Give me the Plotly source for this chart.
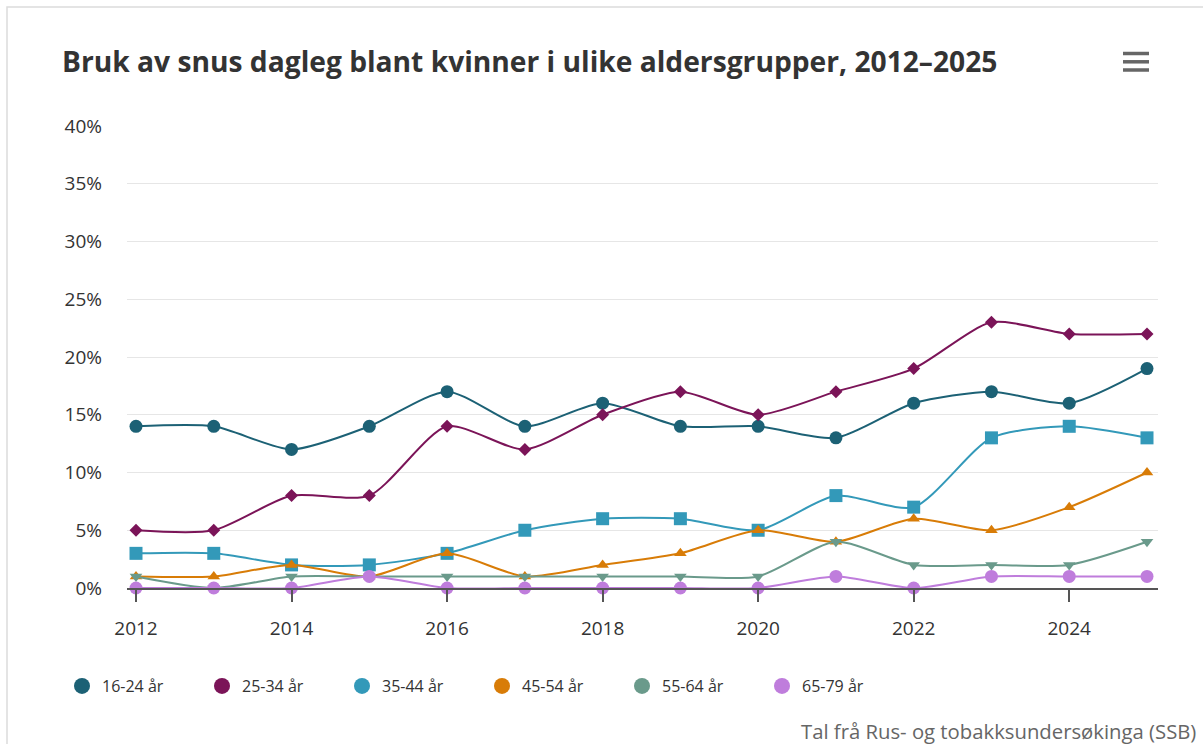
import plotly.graph_objects as go

years = list(range(2012, 2026))
series_names = ["16-24 år", "25-34 år", "35-44 år", "45-54 år", "55-64 år", "65-79 år"]
v_16_24 = [14, 14, 12, 14, 17, 14, 16, 14, 14, 13, 16, 17, 16, 19]
v_25_34 = [5, 5, 8, 8, 14, 12, 15, 17, 15, 17, 19, 23, 22, 22]
v_35_44 = [3, 3, 2, 2, 3, 5, 6, 6, 5, 8, 7, 13, 14, 13]
v_45_54 = [1, 1, 2, 1, 3, 1, 2, 3, 5, 4, 6, 5, 7, 10]
v_55_64 = [1, 0, 1, 1, 1, 1, 1, 1, 1, 4, 2, 2, 2, 4]
v_65_79 = [0, 0, 0, 1, 0, 0, 0, 0, 0, 1, 0, 1, 1, 1]
values = [v_16_24, v_25_34, v_35_44, v_45_54, v_55_64, v_65_79]
colors = ["#1c6175", "#7b1458", "#3399b9", "#d87c07", "#6a9a8b", "#bf7ddc"]
symbols = ["circle", "diamond", "square", "triangle-up", "triangle-down", "circle"]
msizes = [13, 10, 13, 11, 11, 13]
x_ticks = [2012, 2014, 2016, 2018, 2020, 2022, 2024]
y_ticks = [0, 5, 10, 15, 20, 25, 30, 35, 40]
y_labels = [f"{t}%" for t in y_ticks]

FONT = "Open Sans"

fig = go.Figure()
for name, vals, col, sym, ms in zip(series_names, values, colors, symbols, msizes):
    fig.add_trace(go.Scatter(
        x=years, y=vals, name=name, mode="lines+markers",
        line=dict(color=col, width=2, shape="spline", smoothing=0.7),
        marker=dict(color=col, size=ms, symbol=sym),
        showlegend=False, cliponaxis=False,
        hovertemplate="%{x}: %{y}%<extra>" + name + "</extra>",
    ))
# legend-only entries (circle symbols)
for name, col in zip(series_names, colors):
    fig.add_trace(go.Scatter(
        x=[None], y=[None], name=name, mode="markers",
        marker=dict(color=col, size=17, symbol="circle"),
        showlegend=True,
    ))

L, R_PX, T, B = 127, 1158, 126, 588
W, H = 1203, 744
pw = R_PX - L
ph = B - T
def px(x):
    return (x - L) / pw
def py(y):
    return (B - y) / ph

shapes = [
    dict(type="rect", xref="paper", yref="paper",
         x0=px(7), x1=px(1215), y0=py(7), y1=py(760),
         line=dict(color="#dcdcdc", width=1.5), fillcolor="rgba(0,0,0,0)", layer="below"),
]
for yy in (53.5, 61.8, 70):
    shapes.append(dict(type="line", xref="paper", yref="paper",
                       x0=px(1123), x1=px(1149), y0=py(yy), y1=py(yy),
                       line=dict(color="#666666", width=3.5)))

fig.update_layout(
    width=W, height=H,
    margin=dict(l=L, r=W - R_PX, t=T, b=H - B),
    paper_bgcolor="white", plot_bgcolor="white",
    font=dict(family=FONT, size=16, color="#333333"),
    title=dict(
        text="<b>Bruk av snus dagleg blant kvinner i ulike aldersgrupper, 2012–2025</b>",
        x=62 / W, xref="container", xanchor="left",
        y=1 - 62 / H, yref="container", yanchor="middle",
        font=dict(family=FONT, size=28.2, color="#333333"),
    ),
    xaxis=dict(
        range=[2012 - 9 / (1011 / 13), 2025 + 11 / (1011 / 13)],
        tickvals=x_ticks, ticktext=[str(t) for t in x_ticks],
        showgrid=False, zeroline=False,
        showline=True, linecolor="#555555", linewidth=2,
        ticks="outside", ticklen=12, tickcolor="#555555", tickwidth=1.5,
        tickfont=dict(size=19, color="#333333"),
        ticklabelstandoff=10,
    ),
    yaxis=dict(
        range=[0, 40],
        tickvals=y_ticks, ticktext=y_labels,
        showgrid=True, gridcolor="#e6e6e6", gridwidth=1,
        zeroline=False, showline=False, ticks="",
        tickfont=dict(size=19, color="#333333"),
        ticklabelstandoff=24,
    ),
    legend=dict(
        orientation="h", x=px(62), xanchor="left",
        y=py(686), yanchor="middle",
        font=dict(size=16, color="#333333"),
        entrywidth=95, entrywidthmode="pixels",
        itemsizing="trace", bgcolor="rgba(0,0,0,0)",
    ),
    shapes=shapes,
    annotations=[dict(
        text="Tal frå Rus- og tobakksundersøkinga (SSB)",
        xref="paper", yref="paper", x=px(1198), y=py(731),
        xanchor="right", yanchor="middle", showarrow=False,
        font=dict(family=FONT, size=20.3, color="#666666"),
    )],
)

fig.write_html(
    "out.html",
    config={"displayModeBar": False},
    post_script="document.body.style.margin='0';document.body.style.padding='0';",
)
